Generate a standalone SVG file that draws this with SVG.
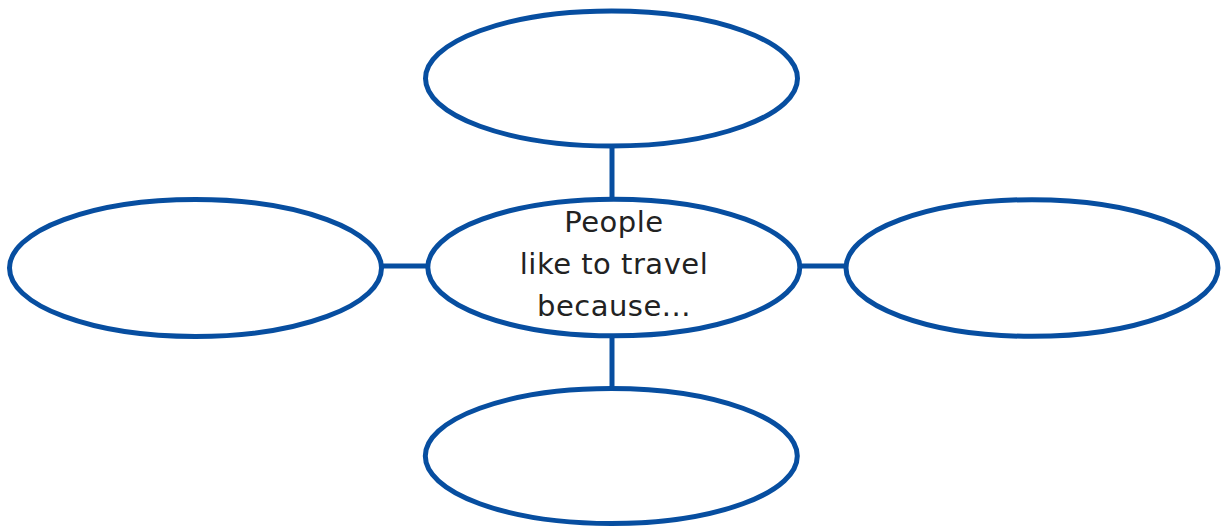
<svg xmlns="http://www.w3.org/2000/svg" width="1222" height="527" viewBox="0 0 1222 527">
  <style>
    .node { fill: #ffffff; stroke: #074ea0; stroke-width: 5; }
    .conn { stroke: #074ea0; stroke-width: 5; fill: none; }
    .label { font-family: "DejaVu Sans", "Noto Sans", sans-serif; font-size: 29px; letter-spacing: 0.5px; fill: #222222; text-anchor: middle; }
  </style>
  <rect width="1222" height="527" fill="#ffffff"/>
  <g id="connectors">
    <line class="conn" x1="612" y1="146" x2="612" y2="200"/>
    <line class="conn" x1="612" y1="336" x2="612" y2="386"/>
    <line class="conn" x1="382" y1="266" x2="429" y2="266"/>
    <line class="conn" x1="799" y1="266" x2="846" y2="266"/>
  </g>
  <g id="node-top">
    <ellipse class="node" cx="611.5" cy="78.5" rx="186" ry="67.5"/>
  </g>
  <g id="node-left">
    <ellipse class="node" cx="195.5" cy="268" rx="186" ry="68.5"/>
  </g>
  <g id="node-center">
    <ellipse class="node" cx="613.8" cy="267.5" rx="186" ry="68.3"/>
    <text class="label" x="614" y="232">People</text>
    <text class="label" x="614" y="274">like to travel</text>
    <text class="label" x="614" y="316">because...</text>
  </g>
  <g id="node-right">
    <ellipse class="node" cx="1032" cy="268" rx="186" ry="68.3"/>
  </g>
  <g id="node-bottom">
    <ellipse class="node" cx="611.3" cy="456" rx="186" ry="67.5"/>
  </g>
</svg>
